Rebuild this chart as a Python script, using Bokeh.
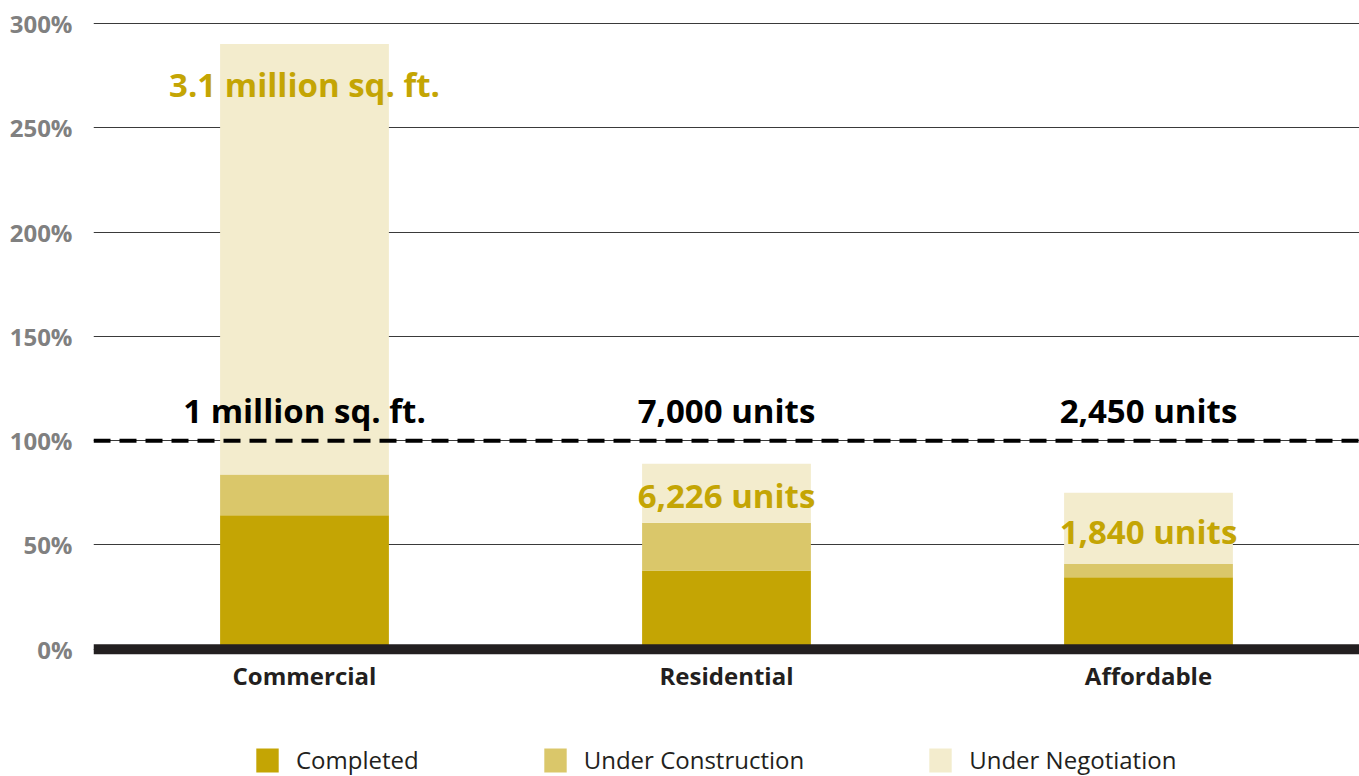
from bokeh.plotting import figure
from bokeh.layouts import column
from bokeh.models import Span, Legend, LegendItem, ColumnDataSource, FixedTicker, Range1d, FactorRange
from bokeh.core.properties import value
from bokeh.embed import file_html
from bokeh.resources import INLINE

categories = ["Commercial", "Residential", "Affordable"]
completed = [64.2, 37.8, 34.5]
under_construction = [19.6, 22.9, 6.4]
under_negotiation = [206.4, 28.2, 34.1]
series_names = ["Completed", "Under Construction", "Under Negotiation"]
colors = ["#C4A504", "#DAC76A", "#F3ECCD"]

target_labels = ["1 million sq. ft.", "7,000 units", "2,450 units"]
target_y = [114.5, 114.5, 114.5]
total_labels = ["3.1 million sq. ft.", "6,226 units", "1,840 units"]
total_y = [270.6, 73.8, 56.5]
y_ticks = [0, 50, 100, 150, 200, 250, 300]

FONT = "Open Sans"

p = figure(x_range=categories, y_range=(-3, 301), width=1359, height=731,
           output_backend="svg", toolbar_location=None,
           min_border_left=93, min_border_right=0, min_border_top=21,
           min_border_bottom=76)
p.x_range.range_padding = 0
p.outline_line_color = None
p.background_fill_color = "white"

src = ColumnDataSource(dict(cat=categories, Completed=completed,
                            **{"Under Construction": under_construction,
                               "Under Negotiation": under_negotiation}))
rs = p.vbar_stack(series_names, x="cat", width=0.4, color=colors,
                  line_color=None, source=src)

p.xgrid.grid_line_color = None
p.ygrid.grid_line_color = "#3a3a3a"
p.ygrid.grid_line_width = 1
p.ygrid.ticker = FixedTicker(ticks=y_ticks)

p.yaxis.ticker = FixedTicker(ticks=y_ticks)
p.yaxis.major_label_overrides = {t: f"{t}%" for t in y_ticks}
p.yaxis.axis_line_color = None
p.yaxis.major_tick_line_color = None
p.yaxis.minor_tick_line_color = None
p.yaxis.major_tick_out = 0
p.yaxis.major_label_standoff = 21
p.yaxis.major_label_text_font = FONT
p.yaxis.major_label_text_font_style = "bold"
p.yaxis.major_label_text_font_size = "24px"
p.yaxis.major_label_text_color = "#808080"

p.xaxis.axis_line_color = None
p.xaxis.major_tick_line_color = None
p.xaxis.major_tick_out = 0
p.xaxis.major_label_standoff = 3
p.xaxis.major_label_text_font = FONT
p.xaxis.major_label_text_font_style = "bold"
p.xaxis.major_label_text_font_size = "24px"
p.xaxis.major_label_text_color = "#231f20"

p.add_layout(Span(location=0, dimension="width", line_color="#231f20", line_width=10))
p.add_layout(Span(location=100, dimension="width", line_color="#000000",
                  line_width=4, line_dash="17 9"))

p.text(x=categories, y=target_y, text=target_labels, text_align="center",
       text_baseline="middle", text_font=value(FONT), text_font_style="bold",
       text_font_size="33px", text_color="#000000")
p.text(x=categories, y=total_y, text=total_labels, text_align="center",
       text_baseline="middle", text_font=value(FONT), text_font_style="bold",
       text_font_size="33px", text_color="#C4A504")

# legend strip below the chart (its stacked bars sit far outside its visible range)
p2 = figure(width=1359, height=45, x_range=FactorRange(*categories), y_range=Range1d(1000, 1010),
            output_backend="svg", toolbar_location=None,
            x_axis_location=None, y_axis_location=None,
            min_border=0, min_border_left=0, min_border_right=0,
            min_border_top=0, min_border_bottom=0)
p2.outline_line_color = None
p2.grid.visible = False
key_rs = p2.vbar_stack(series_names, x="cat", width=0.4, color=colors,
                       line_color=None, source=src)

legend = Legend(items=[LegendItem(label=n, renderers=[r]) for n, r in zip(series_names, key_rs)],
                orientation="horizontal", location=(160, 0),
                glyph_width=28, glyph_height=30, label_standoff=15, spacing=122,
                padding=0, margin=0, border_line_color=None, background_fill_alpha=0,
                label_text_font=FONT, label_text_font_size="24px",
                label_text_color="#231f20")
p2.add_layout(legend, "center")

open("out.html", "w").write(file_html(column(p, p2, spacing=0), INLINE))
